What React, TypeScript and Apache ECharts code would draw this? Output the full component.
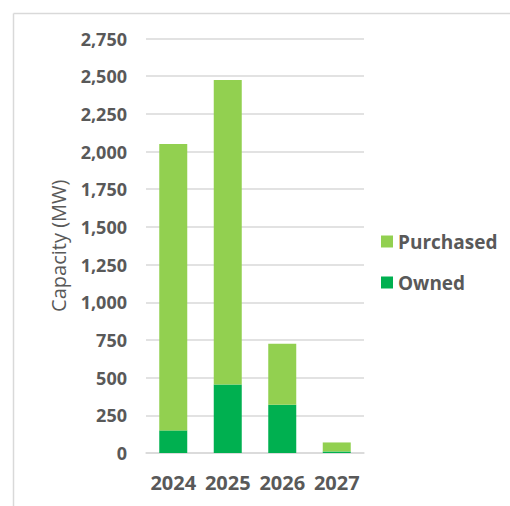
import React, { useEffect, useRef } from "react";
import * as echarts from "echarts";

const categories = ["2024", "2025", "2026", "2027"];
const ownedValues = [150, 455, 320, 10];
const purchasedValues = [1900, 2020, 405, 60];
const seriesNames = ["Purchased", "Owned"];
const yAxisTitle = "Capacity (MW)";

const TEXT = "#595959";
const GRID = "#D9D9D9";
const FONT = "'Open Sans', 'DejaVu Sans', sans-serif";

export default function App() {
  const ref = useRef<HTMLDivElement>(null);
  useEffect(() => {
    if (!ref.current) return;
    const chart = echarts.init(ref.current, null, { renderer: "svg" });
    chart.setOption({
      animation: false,
      backgroundColor: "#ffffff",
      textStyle: { fontFamily: FONT },
      graphic: [
        { type: "line", shape: { x1: 13.5, y1: 13.5, x2: 13.5, y2: 506 }, style: { stroke: GRID, lineWidth: 1.5 } },
        { type: "line", shape: { x1: 13.5, y1: 13.5, x2: 510, y2: 13.5 }, style: { stroke: GRID, lineWidth: 1.5 } },
      ],
      grid: { left: 146, right: 146, top: 38.5, bottom: 53, containLabel: false },
      legend: {
        orient: "vertical",
        left: 376,
        top: 227,
        itemWidth: 12,
        itemHeight: 12,
        itemGap: 22,
        icon: "rect",
        data: [seriesNames[0], seriesNames[1]],
        textStyle: { color: TEXT, fontSize: 19, fontWeight: "bold", fontFamily: FONT },
      },
      xAxis: {
        type: "category",
        data: categories,
        axisTick: { show: false },
        axisLine: { lineStyle: { color: GRID, width: 1.5 } },
        axisLabel: { color: TEXT, fontSize: 20, fontWeight: "bold", margin: 19, interval: 0, fontFamily: FONT },
      },
      yAxis: {
        type: "value",
        min: 0,
        max: 2750,
        interval: 250,
        name: yAxisTitle,
        nameLocation: "middle",
        nameRotate: 90,
        nameGap: 78,
        nameTextStyle: { color: TEXT, fontSize: 20, fontFamily: FONT },
        axisLine: { show: false },
        axisTick: { show: false },
        splitLine: { lineStyle: { color: GRID, width: 1.5 } },
        axisLabel: {
          color: TEXT,
          fontSize: 18,
          fontWeight: "bold",
          margin: 19,
          fontFamily: FONT,
          formatter: (v: number) => v.toLocaleString("en-US"),
        },
      },
      series: [
        {
          name: seriesNames[1],
          type: "bar",
          stack: "total",
          barWidth: 28,
          data: ownedValues,
          itemStyle: { color: "#00B050" },
        },
        {
          name: seriesNames[0],
          type: "bar",
          stack: "total",
          barWidth: 28,
          data: purchasedValues,
          itemStyle: { color: "#92D050" },
        },
      ],
    });
    return () => chart.dispose();
  }, []);
  return (
    <div
      ref={ref}
      style={{ position: "fixed", left: 0, top: 0, width: 510, height: 506 }}
    />
  );
}
